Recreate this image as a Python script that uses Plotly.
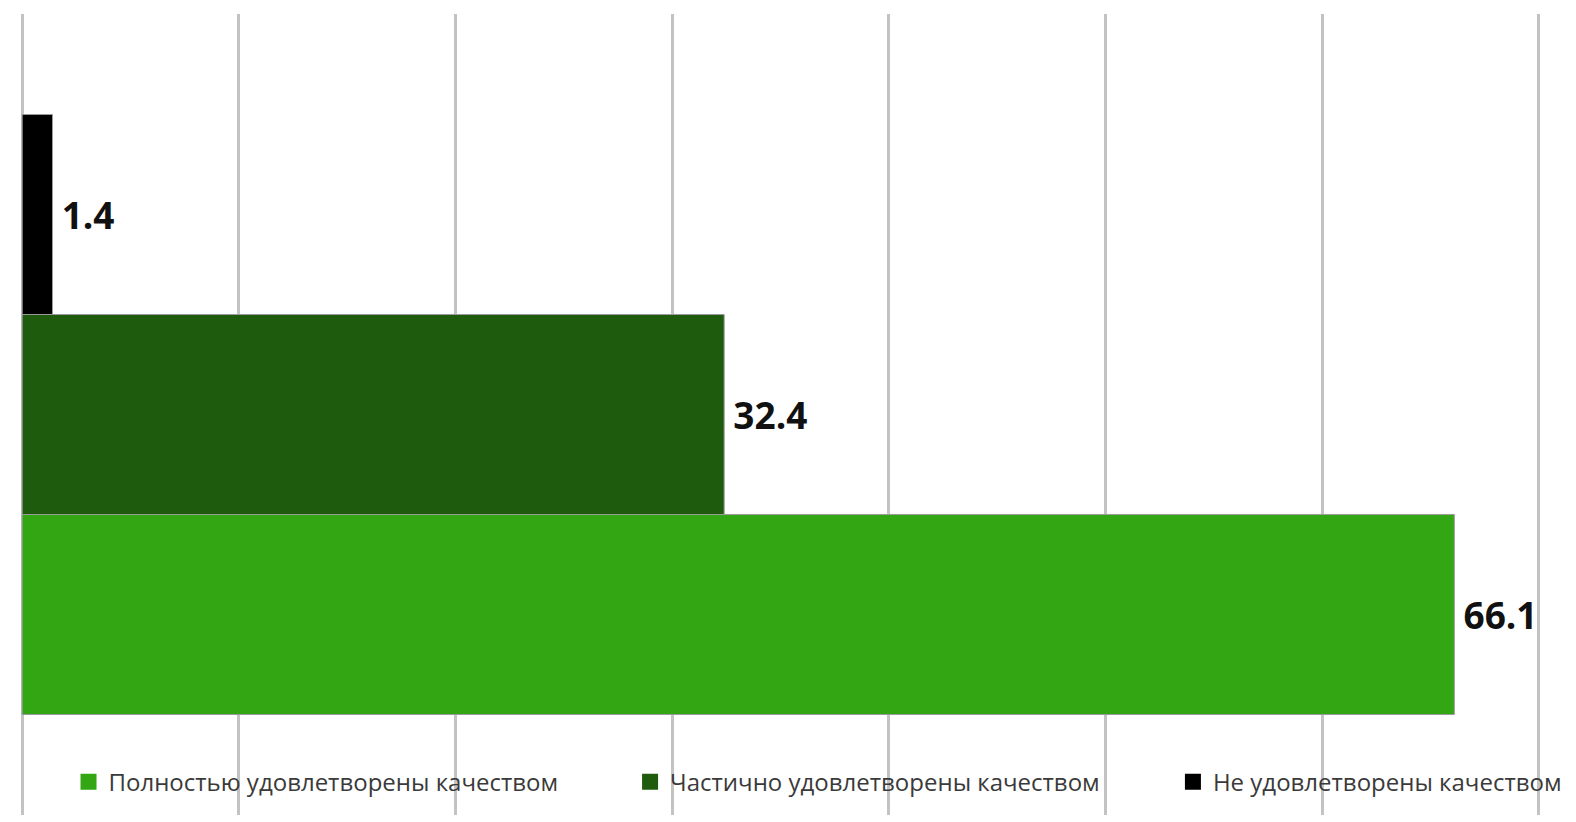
import plotly.graph_objects as go

category = ["Удовлетворённость"]
series_names = ["Полностью удовлетворены качеством",
                "Частично удовлетворены качеством",
                "Не удовлетворены качеством"]
series_values = [66.1, 32.4, 1.4]
series_colors = ["#32a713", "#1f5b0c", "#000000"]
legend_ids = ["legend", "legend2", "legend3"]
legend_x = [0.0319, 0.4011, 0.758]

fig = go.Figure()
for name, val, col, lg in zip(series_names, series_values, series_colors, legend_ids):
    fig.add_trace(go.Bar(
        y=category, x=[val], name=name, orientation="h", showlegend=False,
        marker=dict(color=col, line=dict(color="#9a9a9a", width=1)),
        text=[f"\u2009{val:.1f}"], textposition="outside",
        textfont=dict(family="Open Sans", size=37, color="#111111", weight="bold"),
        cliponaxis=False,
    ))
# legend entries (larger square swatches, as in the original)
for name, col, lg in zip(series_names, series_colors, legend_ids):
    fig.add_trace(go.Scatter(
        x=[None], y=[None], mode="markers", name=name, legend=lg, showlegend=True,
        marker=dict(symbol="square", size=16, color=col, line=dict(width=0)),
        hoverinfo="skip",
    ))

legend_common = dict(orientation="h", y=0.041, xanchor="left", yanchor="middle",
                     itemwidth=30,
                     font=dict(family="Open Sans", size=24, color="#3a3a3a"),
                     bgcolor="rgba(0,0,0,0)")

fig.update_layout(
    width=1576, height=822,
    margin=dict(l=20, r=35, t=14, b=7),
    paper_bgcolor="white", plot_bgcolor="white",
    barmode="group", bargap=0.251, bargroupgap=0,
    showlegend=True,
    legend=dict(x=legend_x[0], **legend_common),
    legend2=dict(x=legend_x[1], **legend_common),
    legend3=dict(x=legend_x[2], **legend_common),
    xaxis=dict(range=[-0.1, 70.1], dtick=10, tick0=0, showgrid=True, gridcolor="#c3c3c3", gridwidth=3,
               zeroline=False, showticklabels=False, ticks="", showline=False, automargin=False),
    yaxis=dict(type="category", showticklabels=False, showgrid=False, zeroline=False, ticks="",
               range=[-0.5, 0.5], automargin=False),
)
fig.write_html(
    "out.html",
    config={"displayModeBar": False},
    post_script="document.documentElement.style.margin='0';document.body.style.margin='0';"
                "document.documentElement.style.overflow='hidden';document.body.style.overflow='hidden';",
)
